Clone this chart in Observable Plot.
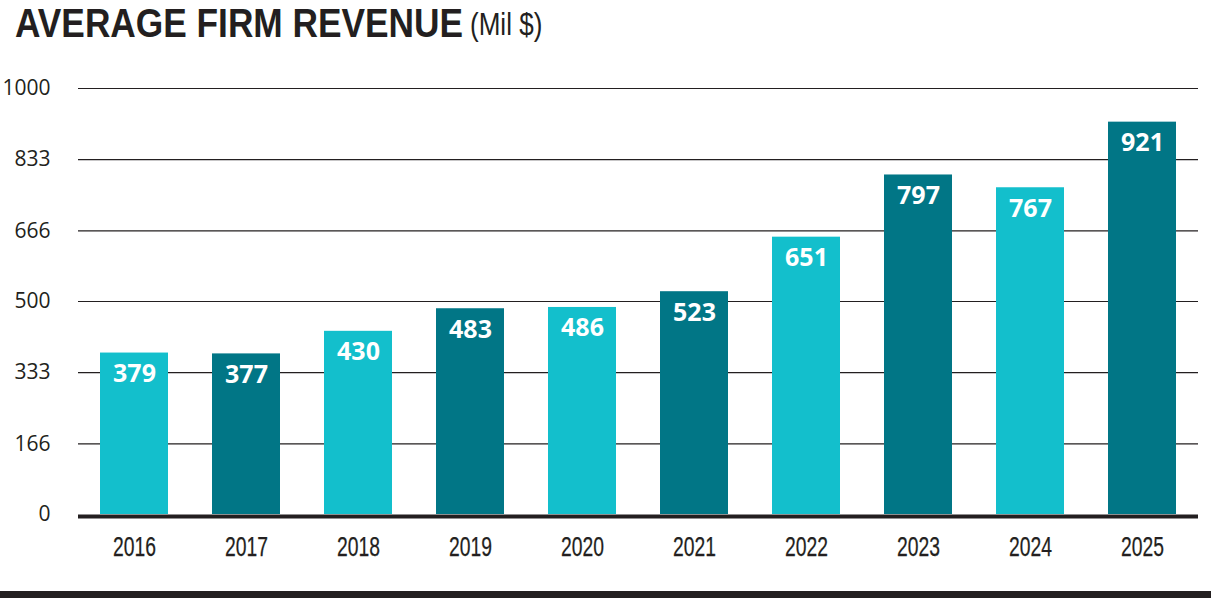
<!DOCTYPE html>
<html>
<head>
<meta charset="utf-8">
<script src="https://cdn.jsdelivr.net/npm/d3@7"></script>
<script src="https://cdn.jsdelivr.net/npm/@observablehq/plot@0.6"></script>
<style>
  html, body { margin: 0; padding: 0; background: #fff; }
  #wrap { width: 1211px; height: 601px; position: relative; overflow: hidden; }
  .t { position: absolute; white-space: nowrap; color: #231f20; font-family: "Liberation Sans", Arial, sans-serif; transform-origin: 0 0; }
  #tmain { left: 15px; top: -1px; font-weight: bold; font-size: 41px; line-height: 48px; transform: scaleX(0.86); }
  #tunit { left: 470px; top: 8px; font-weight: normal; font-size: 31px; line-height: 34px; transform: scaleX(0.84); }
  #chart { position: absolute; left: 0; top: 60px; }
  #bottomline { position: absolute; left: 0; top: 591px; width: 1211px; height: 7px; background: #231f20; }
</style>
</head>
<body>
<div id="wrap">
  <div class="t" id="tmain">AVERAGE FIRM REVENUE</div>
  <div class="t" id="tunit">(Mil $)</div>
  <div id="chart"></div>
  <div id="bottomline"></div>
</div>
<script>
const years = ["2016","2017","2018","2019","2020","2021","2022","2023","2024","2025"];
const revenue = [379, 377, 430, 483, 486, 523, 651, 797, 767, 921];
const yTicks = [0, 166, 333, 500, 666, 833, 1000];

const data = years.map((year, i) => ({year, value: revenue[i], i}));
const light = "#13bfcc";
const dark = "#017686";
const ink = "#231f20";

const chart = Plot.plot({
  width: 1211,
  height: 531,
  marginTop: 28,
  marginBottom: 77,
  marginLeft: 78,
  marginRight: 13,
  x: {domain: years, paddingInner: 0.393, paddingOuter: 0.196, axis: null},
  y: {domain: [0, 1000], axis: null},
  marks: [
    Plot.ruleY(yTicks.filter(d => d > 0), {y: d => d, stroke: ink, strokeWidth: 1.2}),
    Plot.barY(data, {x: "year", y: "value", fill: d => (d.i % 2 ? dark : light)}),
    Plot.ruleY([0], {y: d => d, stroke: ink, strokeWidth: 4, dy: 2}),
    Plot.text(data, {
      x: "year", y: "value", text: d => String(d.value), dy: 21,
      fill: "#ffffff", fontFamily: "Open Sans", fontWeight: "bold", fontSize: 25, lineAnchor: "middle"
    }),
    Plot.text(yTicks, {
      y: d => d, text: d => String(d), frameAnchor: "left", dx: -28, textAnchor: "end",
      fill: ink, fontFamily: "Open Sans", fontSize: 21, lineAnchor: "middle"
    }),
    Plot.text(years, {
      x: d => d, text: d => d, frameAnchor: "bottom", dy: 33, textAnchor: "middle",
      fill: ink, stroke: ink, strokeWidth: 0.25, fontFamily: "Liberation Sans", fontSize: 28, lineAnchor: "middle"
    })
  ]
});
// condense the year labels to match the narrow typeface of the original
d3.select(chart).selectAll("text")
  .filter(function() { return years.includes(this.textContent); })
  .attr("textLength", 43)
  .attr("lengthAdjust", "spacingAndGlyphs");
document.getElementById("chart").appendChild(chart);
</script>
</body>
</html>
